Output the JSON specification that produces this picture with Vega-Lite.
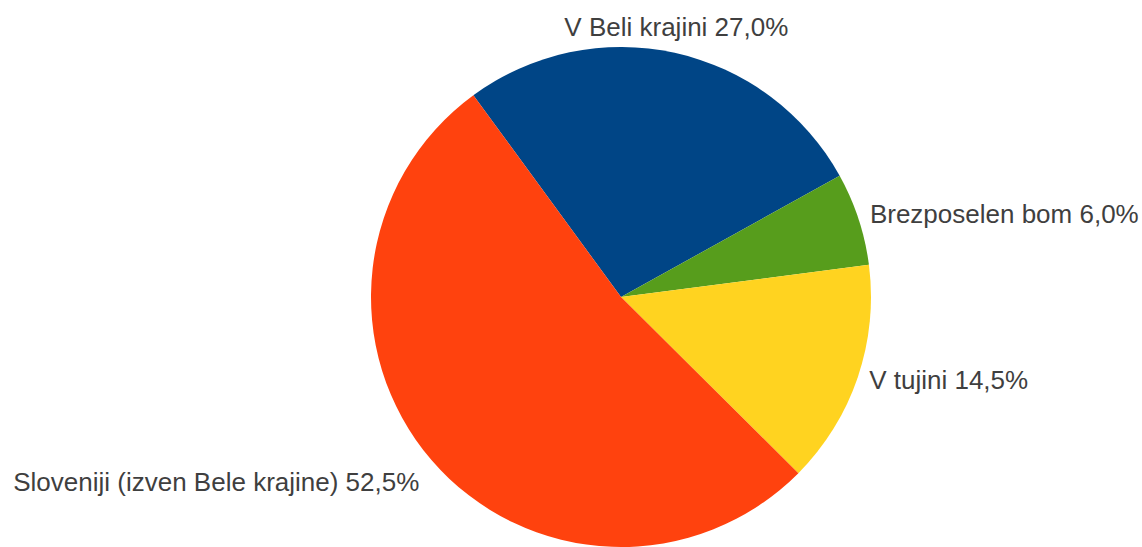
{
  "$schema": "https://vega.github.io/schema/vega-lite/v6.json",
  "width": 1042,
  "height": 500,
  "autosize": {"type": "none"},
  "padding": {"left": 100, "top": 47, "right": 0, "bottom": 0},
  "background": "white",
  "config": {"view": {"stroke": null}},
  "data": {"values": [
    {"cat": "V Beli krajini", "pct": 27.0, "label": "V Beli krajini 27,0%", "ord": 1},
    {"cat": "Brezposelen bom", "pct": 6.0, "label": "Brezposelen bom 6,0%", "ord": 2},
    {"cat": "V tujini", "pct": 14.5, "label": "V tujini 14,5%", "ord": 3},
    {"cat": "Sloveniji (izven Bele krajine)", "pct": 52.5, "label": "Sloveniji (izven Bele krajine) 52,5%", "ord": 4}
  ]},
  "encoding": {
    "theta": {"field": "pct", "type": "quantitative", "stack": true, "scale": {"range": [-0.6318, 5.6514]}},
    "order": {"field": "ord", "type": "quantitative"}
  },
  "layer": [
    {
      "mark": {"type": "arc", "outerRadius": 250},
      "encoding": {
        "color": {
          "field": "cat", "type": "nominal", "legend": null,
          "scale": {
            "domain": ["V Beli krajini", "Brezposelen bom", "V tujini", "Sloveniji (izven Bele krajine)"],
            "range": ["#004586", "#579d1c", "#ffd320", "#ff420e"]
          }
        }
      }
    },
    {
      "mark": {"type": "text", "radius": 267, "align": "center", "baseline": "alphabetic", "fontSize": 26, "font": "Liberation Sans", "fill": "#3f3f3f", "dx": -2},
      "encoding": {"text": {"condition": {"test": "datum.ord == 1", "field": "label"}, "value": ""}}
    },
    {
      "mark": {"type": "text", "radius": 262, "align": "left", "baseline": "alphabetic", "fontSize": 26, "font": "Liberation Sans", "fill": "#3f3f3f", "dy": 8},
      "encoding": {"text": {"condition": {"test": "datum.ord == 2 || datum.ord == 3", "field": "label"}, "value": ""}}
    },
    {
      "mark": {"type": "text", "radius": 266, "align": "right", "baseline": "alphabetic", "fontSize": 26, "font": "Liberation Sans", "fill": "#3f3f3f", "dy": 21},
      "encoding": {"text": {"condition": {"test": "datum.ord == 4", "field": "label"}, "value": ""}}
    }
  ]
}
